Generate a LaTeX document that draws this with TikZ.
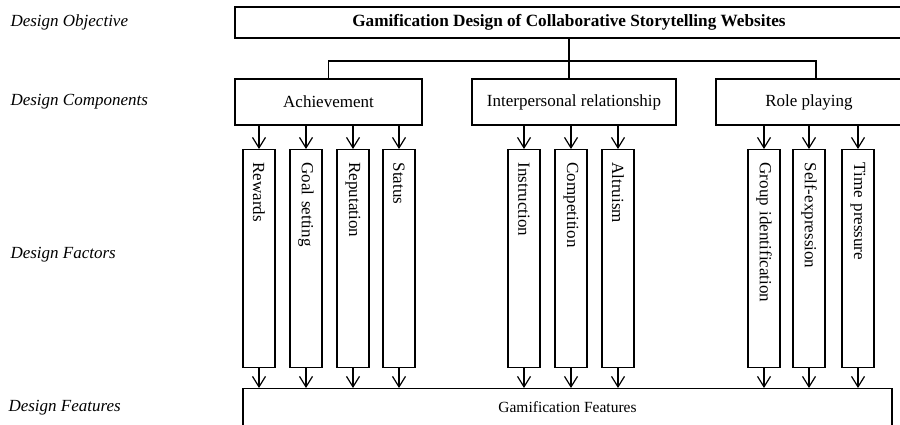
\documentclass[tikz,border=0pt]{standalone}
\usepackage{fontspec}
\setmainfont{Liberation Serif}
\usetikzlibrary{arrows.meta}
\begin{document}
\begin{tikzpicture}[
	x=1pt, y=-1pt,
	box/.style={draw, rectangle, line width=1.2pt, inner sep=1pt, font=\fontsize{17}{20}\selectfont},
	factor/.style={draw, rectangle, line width=1.2pt, rotate=-90, anchor=west, minimum width=218pt, minimum height=32pt, text width=192pt, inner xsep=13pt, align=left, font=\fontsize{17}{20}\selectfont},
	level/.style={anchor=west, font=\fontsize{17}{20}\selectfont\itshape},
	>={Straight Barb[length=10.5pt,width=13pt]}
	]
	\clip (0,0) rectangle (900,424);
	
	%-----------------------
	% Customizable heights
	%-----------------------
	\def\hgoal{22.5}   % Row 1: objective
	\def\hcomp{102}    % Row 2: components
	\def\hfac{149}     % Row 3: top of factor boxes
	\def\hfeat{388}    % Row 4: top of features box
	
	%-----------------------
	% Left column: levels
	%-----------------------
	\node[level] (L-1) at (7,\hgoal) {Design Objective};
	\node[level] (L-2) at (7,\hcomp) {Design Components};
	\node[level] (L-3) at (7,255) {Design Factors};
	\node[level] (L-4) at (5,408) {Design Features};
	
	%-----------------------
	% Row 1: objective
	%-----------------------
	\node[box, minimum width=668pt, minimum height=31pt, font=\fontsize{17.2}{20}\selectfont\bfseries] (Goal) at (569,\hgoal) {Gamification Design of Collaborative Storytelling Websites};
	
	%-----------------------
	% Row 2: components
	%-----------------------
	\node[box, minimum width=187pt, minimum height=46pt] (Ach) at (328.5,\hcomp) {Achievement};
	\node[box, minimum width=204pt, minimum height=46pt] (Inter) at (574,\hcomp) {Interpersonal relationship};
	\node[box, minimum width=186pt, minimum height=46pt] (Role) at (809,\hcomp) {Role playing};
	
	%-----------------------
	% Row 3: factors
	%-----------------------
	\node[factor] (F-1) at (259,\hfac) {Rewards};
	\node[factor] (F-2) at (306,\hfac) {Goal setting};
	\node[factor] (F-3) at (353,\hfac) {Reputation};
	\node[factor] (F-4) at (399,\hfac) {Status};
	
	\node[factor] (F-5) at (524,\hfac) {Instruction};
	\node[factor] (F-6) at (571,\hfac) {Competition};
	\node[factor] (F-7) at (618,\hfac) {Altruism};
	
	\node[factor] (F-8) at (764,\hfac) {Group identification};
	\node[factor] (F-9) at (809,\hfac) {Self-expression};
	\node[factor] (F-10) at (858,\hfac) {Time pressure};
	
	%-----------------------
	% Row 4: features
	%-----------------------
	\node[box, anchor=north, minimum width=649pt, minimum height=38pt, font=\fontsize{15.5}{18}\selectfont] (Feat) at (567.5,\hfeat) {Gamification Features};
	
	%-----------------------
	% Connections
	%-----------------------
	\tikzset{connect/.style={line width=1.2pt}}
	\coordinate (barR) at (816,61);
	
	% Objective -> components
	\draw[connect] (Goal.south) -- (Goal.south |- Inter.north);
	\draw[connect] (Ach.north) |- (barR) -- (barR |- Role.north);
	
	% Components -> factors
	\draw[connect,->] (F-1.west |- Ach.south) -- (F-1.west);
	\draw[connect,->] (F-2.west |- Ach.south) -- (F-2.west);
	\draw[connect,->] (F-3.west |- Ach.south) -- (F-3.west);
	\draw[connect,->] (F-4.west |- Ach.south) -- (F-4.west);
	
	\draw[connect,->] (F-5.west |- Inter.south) -- (F-5.west);
	\draw[connect,->] (F-6.west |- Inter.south) -- (F-6.west);
	\draw[connect,->] (F-7.west |- Inter.south) -- (F-7.west);
	
	\draw[connect,->] (F-8.west |- Role.south) -- (F-8.west);
	\draw[connect,->] (F-9.west |- Role.south) -- (F-9.west);
	\draw[connect,->] (F-10.west |- Role.south) -- (F-10.west);
	
	% Factors -> features
	\foreach \i in {1,...,10}
		\draw[connect,->] (F-\i.east) -- (F-\i.east |- Feat.north);
	
\end{tikzpicture}
\end{document}
